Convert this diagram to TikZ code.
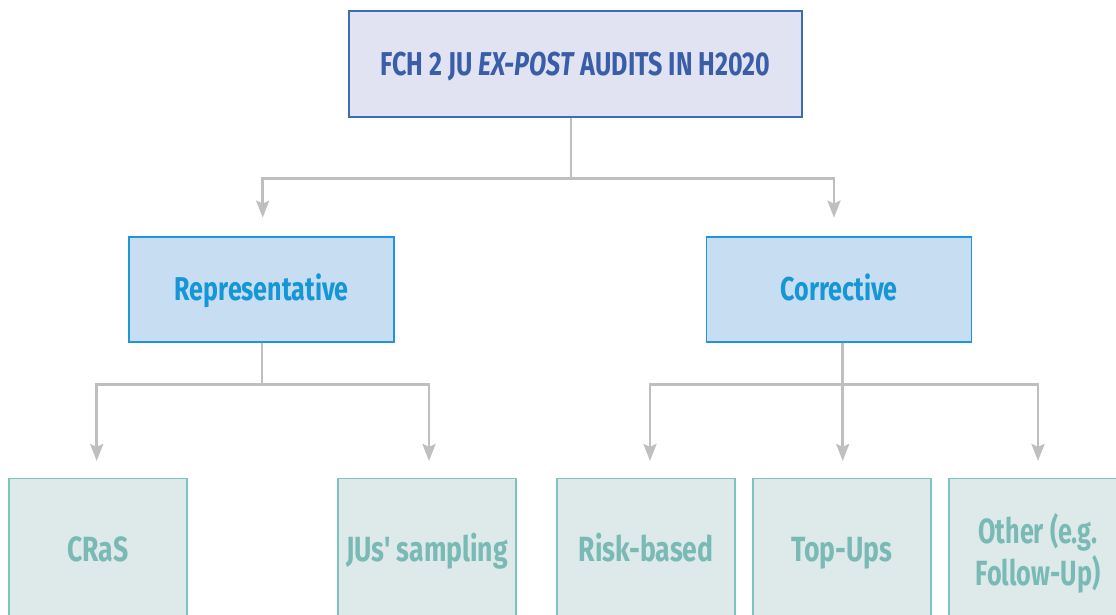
\documentclass[tikz,border=0pt]{standalone}
\usepackage{fontspec}
\setmainfont{Fira Sans}[FakeStretch=0.76, Ligatures=TeXOff]
\usetikzlibrary{arrows.meta}
\definecolor{topfill}{HTML}{E1E3F2}
\definecolor{topdraw}{HTML}{3D6CB5}
\definecolor{toptext}{HTML}{3A5DA8}
\definecolor{midfill}{HTML}{C6DDF2}
\definecolor{middraw}{HTML}{1E96DC}
\definecolor{midtext}{HTML}{1596D6}
\definecolor{botfill}{HTML}{DEE9E9}
\definecolor{botdraw}{HTML}{7DC3C0}
\definecolor{bottext}{HTML}{7ABAB6}
\definecolor{linegray}{HTML}{BFBFC1}
\tikzset{
  topbox/.style={draw=topdraw, fill=topfill, line width=1.5pt, minimum width=453pt, minimum height=106pt, text=toptext, font=\bfseries\fontsize{33}{36}\selectfont, inner sep=0pt, text height=22.7pt, text depth=0pt},
  midbox/.style={draw=middraw, fill=midfill, line width=1.5pt, minimum width=265pt, minimum height=105pt, text=midtext, font=\bfseries\fontsize{33}{36}\selectfont, inner sep=0pt, text height=22.7pt, text depth=0pt},
  botbox/.style={draw=botdraw, fill=botfill, line width=1.5pt, minimum width=178pt, minimum height=142pt, text=bottext, font=\bfseries\fontsize{35}{42}\selectfont, inner sep=0pt, align=center},
  botone/.style={botbox, text height=24pt, text depth=0pt},
  conn/.style={draw=linegray, line width=2.7pt},
  arr/.style={conn, -{Stealth[length=17pt, width=13pt, inset=3pt]}}
}
\begin{document}
\begin{tikzpicture}[x=1pt, y=-1pt]
\useasboundingbox (0,0) rectangle (1116,614);
\clip (0,0) rectangle (1116,614);
\fill[white] (0,0) rectangle (1116,614);
% nodes
\node[topbox] (top) at (575.5,64) {FCH 2 JU \textit{EX-POST} AUDITS IN H2020};
\node[midbox] (rep) at (261.7,289.4) {Representative};
\node[midbox] (corr) at (839.2,289.4) {Corrective};
\node[botone] (cras) at (98,549.7) {CRaS};
\node[botone] (jus) at (427,549.7) {JUs' sampling};
\node[botone] (risk) at (646.2,549.7) {Risk-based};
\node[botone] (tops) at (842,549.7) {Top-Ups};
\node[botbox, text depth=0pt] (other) at (1038,549.7) {\addfontfeature{FakeStretch=0.72}Other (e.g.\\\addfontfeature{FakeStretch=0.72}Follow-Up)};
% junctions
\coordinate (j0) at (571,178.3);
\coordinate (j1) at (262,384.3);
\coordinate (j2) at (842.7,384.3);
% connectors from top
\draw[conn] ([xshift=-4.5pt]top.south) -- (j0);
\draw[arr] (j0) -| ([xshift=1pt,yshift=18.5pt]rep.north);
\draw[arr] (j0) -| ([xshift=-5.2pt,yshift=18.5pt]corr.north);
% connectors from Representative
\draw[conn] ([xshift=0.3pt]rep.south) -- (j1);
\draw[arr] (j1) -| ([xshift=-1.3pt,yshift=17pt]cras.north);
\draw[arr] (j1) -| ([xshift=2pt,yshift=17pt]jus.north);
% connectors from Corrective
\draw[conn] ([xshift=3.5pt]corr.south) -- (j2);
\draw[arr] (j2) -| ([xshift=3.8pt,yshift=17pt]risk.north);
\draw[arr] (j2) -- ([xshift=0.7pt,yshift=17pt]tops.north);
\draw[arr] (j2) -| ([yshift=17pt]other.north);
\end{tikzpicture}
\end{document}
